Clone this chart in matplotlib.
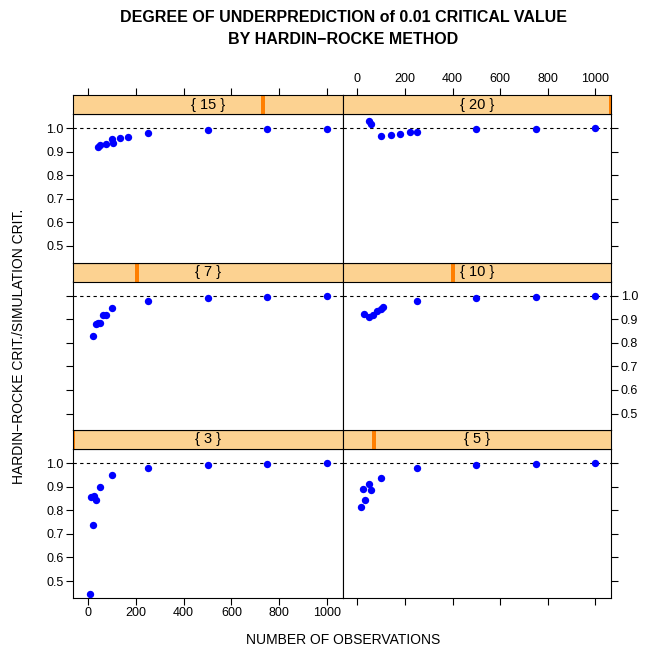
import matplotlib
matplotlib.use('Agg')
import matplotlib.pyplot as plt

plt.rcParams['font.family'] = ['Liberation Sans', 'DejaVu Sans']

# number of variables (panel levels)
levels = [3, 5, 7, 10, 15, 20]

# number of observations and ratio of Hardin-Rocke crit. to simulation crit.
n_p3 = [7, 12, 21, 24, 32, 49, 100, 250, 500, 750, 1000]
r_p3 = [0.446, 0.855, 0.738, 0.861, 0.843, 0.899, 0.951, 0.981, 0.993, 0.996, 0.999]

n_p5 = [15, 33, 24, 49, 55, 99, 250, 500, 750, 1000]
r_p5 = [0.812, 0.844, 0.889, 0.913, 0.886, 0.938, 0.979, 0.992, 0.996, 0.999]

n_p7 = [21, 35, 42, 49, 63, 77, 100, 250, 500, 750, 1000]
r_p7 = [0.827, 0.879, 0.883, 0.886, 0.919, 0.919, 0.947, 0.979, 0.992, 0.996, 0.999]

n_p10 = [28, 50, 67, 84, 98, 109, 250, 500, 750, 1000]
r_p10 = [0.921, 0.908, 0.919, 0.933, 0.943, 0.951, 0.979, 0.992, 0.996, 0.999]

n_p15 = [42, 49, 73, 98, 104, 133, 165, 250, 500, 750, 1000]
r_p15 = [0.922, 0.929, 0.934, 0.952, 0.938, 0.957, 0.962, 0.979, 0.994, 0.995, 0.998]

n_p20 = [48, 58, 100, 140, 180, 220, 250, 500, 750, 1000]
r_p20 = [1.032, 1.018, 0.967, 0.971, 0.977, 0.982, 0.982, 0.996, 0.998, 1.000]

panel_data = {3: (n_p3, r_p3), 5: (n_p5, r_p5), 7: (n_p7, r_p7),
              10: (n_p10, r_p10), 15: (n_p15, r_p15), 20: (n_p20, r_p20)}

xticks = [0, 200, 400, 600, 800, 1000]
yticks = [0.5, 0.6, 0.7, 0.8, 0.9, 1.0]

W, H = 646, 650
fig = plt.figure(figsize=(W / 100, H / 100), dpi=100)


def box(x0, y0, x1, y1):
    return [x0 / W, 1 - y1 / H, (x1 - x0) / W, (y1 - y0) / H]


xlim = (-62, 1066)
col_x = [(73.3, 342.7), (342.7, 611.0)]
top0 = 95.0
block_h = 167.5
strip_h = 19.0

# lattice order: bottom-left first, going right then up
for i, lev in enumerate(levels):
    row = 2 - i // 2
    col = i % 2
    x0, x1 = col_x[col]
    y_strip = top0 + row * block_h
    y_pan = y_strip + strip_h
    y_bot = top0 + (row + 1) * block_h

    ax = fig.add_axes(box(x0, y_pan, x1, y_bot))
    n, r = panel_data[lev]
    ax.axhline(1.0, color='black', lw=0.8, ls=(0, (3, 3)), zorder=1)
    ax.plot(n, r, 'o', color='#0000FF', ms=5.3, mew=0, zorder=3)
    ax.set_xlim(*xlim)
    ax.set_ylim(0.43, 1.06)
    ax.set_xticks(xticks)
    ax.set_xticklabels([str(v) for v in xticks])
    ax.set_yticks(yticks)
    ax.set_yticklabels(['%.1f' % v for v in yticks])
    ax.tick_params(direction='out', length=5, width=0.8, labelsize=9, pad=2,
                   bottom=row == 2, labelbottom=(row == 2 and col == 0),
                   top=False, labeltop=False,
                   left=col == 0, labelleft=(col == 0 and row != 1),
                   right=col == 1, labelright=(col == 1 and row == 1))
    for s in ax.spines.values():
        s.set_linewidth(0.8)

    # strip with shingle-level marker; top row strips carry the top axis
    sax = fig.add_axes(box(x0, y_strip, x1, y_pan))
    sax.set_facecolor('#FCD291')
    sax.set_xlim(*xlim)
    sax.set_ylim(0, 1)
    sax.set_yticks([])
    f = (lev - levels[0]) / (levels[-1] - levels[0])
    xm = xlim[0] + f * (xlim[1] - xlim[0])
    hw = 0.0075 * (xlim[1] - xlim[0])
    sax.axvspan(xm - hw, xm + hw, color='#FF7F00', lw=0)
    sax.text(0.5, 0.5, '{ %d }' % lev, ha='center', va='center', fontsize=10.5,
             transform=sax.transAxes)
    if row == 0:
        sax.set_xticks(xticks)
        sax.set_xticklabels([str(v) for v in xticks])
        sax.tick_params(direction='out', length=5, width=0.8, labelsize=9, pad=2,
                        bottom=False, labelbottom=False, top=True,
                        labeltop=(col == 1))
    else:
        sax.set_xticks([])
    for s in sax.spines.values():
        s.set_linewidth(0.8)

fig.text(343 / W, 1 - 18 / H, 'DEGREE OF UNDERPREDICTION of 0.01 CRITICAL VALUE',
         ha='center', va='center', fontsize=11.5, fontweight='bold')
fig.text(343 / W, 1 - 40 / H, 'BY HARDIN\u2212ROCKE METHOD',
         ha='center', va='center', fontsize=11.5, fontweight='bold')
fig.text(343 / W, 1 - 640 / H, 'NUMBER OF OBSERVATIONS',
         ha='center', va='center', fontsize=10)
fig.text(19 / W, 1 - 346 / H, 'HARDIN\u2212ROCKE CRIT./SIMULATION CRIT.',
         ha='center', va='center', rotation=90, fontsize=10)

fig.savefig('out.png', dpi=100)
